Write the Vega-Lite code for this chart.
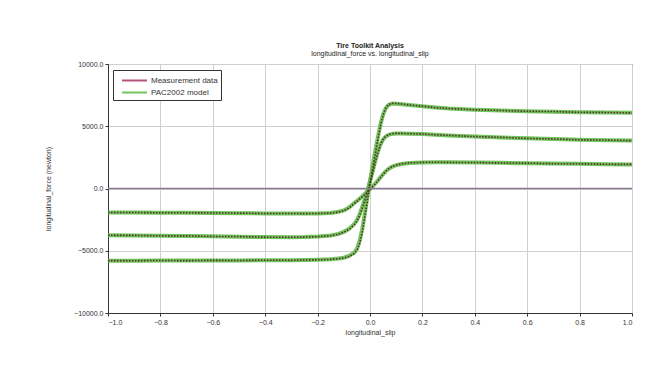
{
  "$schema": "https://vega.github.io/schema/vega-lite/v6.json",
  "autosize": "none",
  "width": 524,
  "height": 249,
  "padding": {"left": 108, "top": 64, "right": 40, "bottom": 58},
  "background": "white",
  "config": {
    "view": {"stroke": "#333333", "strokeWidth": 1},
    "font": "Liberation Sans",
    "axis": {
      "gridColor": "#cfcfcf", "gridWidth": 1, "domainColor": "#333333", "tickColor": "#333333", "tickSize": 3,
      "labelFont": "Liberation Sans", "labelFontSize": 7, "labelColor": "#333333",
      "titleFont": "Liberation Sans", "titleFontSize": 7, "titleFontWeight": "normal", "titleColor": "#333333"
    }
  },
  "title": {
    "text": "Tire Toolkit Analysis",
    "subtitle": "longitudinal_force vs. longitudinal_slip",
    "font": "Liberation Sans", "subtitleFont": "Liberation Sans",
    "fontSize": 7, "subtitleFontSize": 7, "fontWeight": "bold",
    "color": "#222222", "subtitleColor": "#222222",
    "anchor": "middle", "offset": 3, "subtitlePadding": 1
  },
  "datasets": {
    "zero": [{"force": 0}],
    "curves": [
      {"slip": -1.0, "load": "high", "measurement": -5790, "model": -5800},
      {"slip": -0.9, "load": "high", "measurement": -5800, "model": -5795},
      {"slip": -0.8, "load": "high", "measurement": -5780, "model": -5790},
      {"slip": -0.7, "load": "high", "measurement": -5795, "model": -5785},
      {"slip": -0.6, "load": "high", "measurement": -5770, "model": -5780},
      {"slip": -0.5, "load": "high", "measurement": -5785, "model": -5775},
      {"slip": -0.4, "load": "high", "measurement": -5760, "model": -5770},
      {"slip": -0.3, "load": "high", "measurement": -5770, "model": -5760},
      {"slip": -0.25, "load": "high", "measurement": -5740, "model": -5745},
      {"slip": -0.2, "load": "high", "measurement": -5730, "model": -5720},
      {"slip": -0.15, "load": "high", "measurement": -5690, "model": -5680},
      {"slip": -0.12, "load": "high", "measurement": -5640, "model": -5620},
      {"slip": -0.1, "load": "high", "measurement": -5580, "model": -5560},
      {"slip": -0.08, "load": "high", "measurement": -5460, "model": -5420},
      {"slip": -0.06, "load": "high", "measurement": -5230, "model": -5150},
      {"slip": -0.05, "load": "high", "measurement": -4980, "model": -4850},
      {"slip": -0.04, "load": "high", "measurement": -4450, "model": -4250},
      {"slip": -0.03, "load": "high", "measurement": -3550, "model": -3300},
      {"slip": -0.02, "load": "high", "measurement": -2300, "model": -2050},
      {"slip": -0.01, "load": "high", "measurement": -950, "model": -700},
      {"slip": 0.0, "load": "high", "measurement": 350, "model": 600},
      {"slip": 0.01, "load": "high", "measurement": 1550, "model": 1800},
      {"slip": 0.02, "load": "high", "measurement": 2800, "model": 3000},
      {"slip": 0.03, "load": "high", "measurement": 3950, "model": 4100},
      {"slip": 0.04, "load": "high", "measurement": 5050, "model": 5150},
      {"slip": 0.05, "load": "high", "measurement": 5900, "model": 5950},
      {"slip": 0.06, "load": "high", "measurement": 6430, "model": 6450},
      {"slip": 0.07, "load": "high", "measurement": 6720, "model": 6700},
      {"slip": 0.08, "load": "high", "measurement": 6830, "model": 6800},
      {"slip": 0.09, "load": "high", "measurement": 6850, "model": 6820},
      {"slip": 0.1, "load": "high", "measurement": 6830, "model": 6810},
      {"slip": 0.12, "load": "high", "measurement": 6790, "model": 6770},
      {"slip": 0.15, "load": "high", "measurement": 6710, "model": 6700},
      {"slip": 0.2, "load": "high", "measurement": 6610, "model": 6600},
      {"slip": 0.25, "load": "high", "measurement": 6490, "model": 6500},
      {"slip": 0.3, "load": "high", "measurement": 6430, "model": 6420},
      {"slip": 0.4, "load": "high", "measurement": 6320, "model": 6330},
      {"slip": 0.5, "load": "high", "measurement": 6270, "model": 6260},
      {"slip": 0.6, "load": "high", "measurement": 6200, "model": 6210},
      {"slip": 0.7, "load": "high", "measurement": 6180, "model": 6170},
      {"slip": 0.8, "load": "high", "measurement": 6120, "model": 6130},
      {"slip": 0.9, "load": "high", "measurement": 6110, "model": 6100},
      {"slip": 1.0, "load": "high", "measurement": 6070, "model": 6080},

      {"slip": -1.0, "load": "mid", "measurement": -3760, "model": -3750},
      {"slip": -0.9, "load": "mid", "measurement": -3765, "model": -3770},
      {"slip": -0.8, "load": "mid", "measurement": -3800, "model": -3790},
      {"slip": -0.7, "load": "mid", "measurement": -3805, "model": -3810},
      {"slip": -0.6, "load": "mid", "measurement": -3850, "model": -3840},
      {"slip": -0.5, "load": "mid", "measurement": -3860, "model": -3870},
      {"slip": -0.4, "load": "mid", "measurement": -3910, "model": -3900},
      {"slip": -0.3, "load": "mid", "measurement": -3920, "model": -3910},
      {"slip": -0.25, "load": "mid", "measurement": -3905, "model": -3900},
      {"slip": -0.2, "load": "mid", "measurement": -3870, "model": -3860},
      {"slip": -0.15, "load": "mid", "measurement": -3790, "model": -3780},
      {"slip": -0.12, "load": "mid", "measurement": -3670, "model": -3650},
      {"slip": -0.1, "load": "mid", "measurement": -3510, "model": -3480},
      {"slip": -0.08, "load": "mid", "measurement": -3290, "model": -3250},
      {"slip": -0.06, "load": "mid", "measurement": -2910, "model": -2850},
      {"slip": -0.05, "load": "mid", "measurement": -2620, "model": -2550},
      {"slip": -0.04, "load": "mid", "measurement": -2190, "model": -2100},
      {"slip": -0.03, "load": "mid", "measurement": -1600, "model": -1500},
      {"slip": -0.02, "load": "mid", "measurement": -950, "model": -850},
      {"slip": -0.01, "load": "mid", "measurement": -300, "model": -200},
      {"slip": 0.0, "load": "mid", "measurement": 480, "model": 600},
      {"slip": 0.01, "load": "mid", "measurement": 1250, "model": 1350},
      {"slip": 0.02, "load": "mid", "measurement": 2100, "model": 2200},
      {"slip": 0.03, "load": "mid", "measurement": 2880, "model": 2950},
      {"slip": 0.04, "load": "mid", "measurement": 3520, "model": 3550},
      {"slip": 0.05, "load": "mid", "measurement": 3940, "model": 3950},
      {"slip": 0.06, "load": "mid", "measurement": 4190, "model": 4180},
      {"slip": 0.07, "load": "mid", "measurement": 4320, "model": 4300},
      {"slip": 0.08, "load": "mid", "measurement": 4390, "model": 4370},
      {"slip": 0.09, "load": "mid", "measurement": 4420, "model": 4400},
      {"slip": 0.1, "load": "mid", "measurement": 4430, "model": 4420},
      {"slip": 0.12, "load": "mid", "measurement": 4430, "model": 4420},
      {"slip": 0.15, "load": "mid", "measurement": 4410, "model": 4400},
      {"slip": 0.2, "load": "mid", "measurement": 4380, "model": 4370},
      {"slip": 0.25, "load": "mid", "measurement": 4310, "model": 4320},
      {"slip": 0.3, "load": "mid", "measurement": 4270, "model": 4260},
      {"slip": 0.4, "load": "mid", "measurement": 4170, "model": 4180},
      {"slip": 0.5, "load": "mid", "measurement": 4110, "model": 4100},
      {"slip": 0.6, "load": "mid", "measurement": 4020, "model": 4030},
      {"slip": 0.7, "load": "mid", "measurement": 3980, "model": 3970},
      {"slip": 0.8, "load": "mid", "measurement": 3910, "model": 3920},
      {"slip": 0.9, "load": "mid", "measurement": 3890, "model": 3880},
      {"slip": 1.0, "load": "mid", "measurement": 3840, "model": 3850},

      {"slip": -1.0, "load": "low", "measurement": -1930, "model": -1920},
      {"slip": -0.9, "load": "low", "measurement": -1925, "model": -1930},
      {"slip": -0.8, "load": "low", "measurement": -1950, "model": -1940},
      {"slip": -0.7, "load": "low", "measurement": -1945, "model": -1950},
      {"slip": -0.6, "load": "low", "measurement": -1970, "model": -1960},
      {"slip": -0.5, "load": "low", "measurement": -1975, "model": -1980},
      {"slip": -0.4, "load": "low", "measurement": -2010, "model": -2000},
      {"slip": -0.3, "load": "low", "measurement": -2005, "model": -2010},
      {"slip": -0.25, "load": "low", "measurement": -2020, "model": -2010},
      {"slip": -0.2, "load": "low", "measurement": -2005, "model": -2000},
      {"slip": -0.15, "load": "low", "measurement": -1970, "model": -1960},
      {"slip": -0.12, "load": "low", "measurement": -1890, "model": -1870},
      {"slip": -0.1, "load": "low", "measurement": -1780, "model": -1760},
      {"slip": -0.08, "load": "low", "measurement": -1560, "model": -1530},
      {"slip": -0.06, "load": "low", "measurement": -1210, "model": -1170},
      {"slip": -0.05, "load": "low", "measurement": -1040, "model": -1000},
      {"slip": -0.04, "load": "low", "measurement": -860, "model": -820},
      {"slip": -0.03, "load": "low", "measurement": -680, "model": -640},
      {"slip": -0.02, "load": "low", "measurement": -480, "model": -440},
      {"slip": -0.01, "load": "low", "measurement": -290, "model": -250},
      {"slip": 0.0, "load": "low", "measurement": -80, "model": -40},
      {"slip": 0.01, "load": "low", "measurement": 140, "model": 180},
      {"slip": 0.02, "load": "low", "measurement": 370, "model": 400},
      {"slip": 0.03, "load": "low", "measurement": 610, "model": 640},
      {"slip": 0.04, "load": "low", "measurement": 880, "model": 900},
      {"slip": 0.05, "load": "low", "measurement": 1140, "model": 1150},
      {"slip": 0.06, "load": "low", "measurement": 1380, "model": 1380},
      {"slip": 0.07, "load": "low", "measurement": 1570, "model": 1560},
      {"slip": 0.08, "load": "low", "measurement": 1710, "model": 1700},
      {"slip": 0.09, "load": "low", "measurement": 1810, "model": 1800},
      {"slip": 0.1, "load": "low", "measurement": 1880, "model": 1870},
      {"slip": 0.12, "load": "low", "measurement": 1980, "model": 1970},
      {"slip": 0.15, "load": "low", "measurement": 2060, "model": 2050},
      {"slip": 0.2, "load": "low", "measurement": 2100, "model": 2090},
      {"slip": 0.25, "load": "low", "measurement": 2110, "model": 2100},
      {"slip": 0.3, "load": "low", "measurement": 2095, "model": 2100},
      {"slip": 0.4, "load": "low", "measurement": 2090, "model": 2080},
      {"slip": 0.5, "load": "low", "measurement": 2050, "model": 2060},
      {"slip": 0.6, "load": "low", "measurement": 2040, "model": 2030},
      {"slip": 0.7, "load": "low", "measurement": 1990, "model": 2000},
      {"slip": 0.8, "load": "low", "measurement": 1985, "model": 1980},
      {"slip": 0.9, "load": "low", "measurement": 1945, "model": 1950},
      {"slip": 1.0, "load": "low", "measurement": 1935, "model": 1930}
    ]
  },
  "layer": [
    {
      "data": {"name": "curves"},
      "transform": [
        {"fold": ["measurement", "model"], "as": ["source", "force"]},
        {"filter": "datum.source == 'model'"}
      ],
      "mark": {"type": "line", "strokeWidth": 4, "opacity": 0.9},
      "encoding": {
        "x": {
          "field": "slip", "type": "quantitative",
          "scale": {"domain": [-1, 1], "nice": false, "zero": false},
          "axis": {
            "title": "longitudinal_slip",
            "values": [-1, -0.9, -0.8, -0.7, -0.6, -0.5, -0.4, -0.3, -0.2, -0.1, 0, 0.1, 0.2, 0.3, 0.4, 0.5, 0.6, 0.7, 0.8, 0.9, 1],
            "labelExpr": "abs(round(datum.value * 10)) % 2 == 0 ? format(datum.value, '.1f') : ''",
            "labelPadding": 2, "titlePadding": 3
          }
        },
        "y": {
          "field": "force", "type": "quantitative",
          "scale": {"domain": [-10000, 10000], "nice": false},
          "axis": {
            "title": "longitudinal_force (newton)",
            "values": [-10000, -7500, -5000, -2500, 0, 2500, 5000, 7500, 10000],
            "labelExpr": "datum.value % 5000 == 0 ? format(datum.value, '.1f') : ''",
            "labelPadding": 2, "titlePadding": 22
          }
        },
        "detail": {"field": "load"},
        "color": {
          "field": "source", "type": "nominal",
          "scale": {"domain": ["measurement", "model"], "range": ["#b0406e", "#62bf4a"]},
          "legend": {
            "title": null, "orient": "none", "legendX": 5, "legendY": 6,
            "labelExpr": "datum.value == 'measurement' ? 'Measurement data' : 'PAC2002 model'",
            "symbolType": "M-2,0H2", "symbolSize": 156, "symbolStrokeWidth": 2, "symbolOffset": 11,
            "labelFontSize": 8, "labelFont": "Liberation Sans", "labelColor": "#333333",
            "fillColor": "white", "strokeColor": "#333333", "padding": 3, "rowPadding": -4, "labelOffset": 9
          }
        }
      }
    },
    {
      "data": {"name": "curves"},
      "transform": [
        {"fold": ["measurement", "model"], "as": ["source", "force"]},
        {"filter": "datum.source == 'measurement'"}
      ],
      "mark": {"type": "line", "strokeWidth": 1.6, "strokeDash": [1.5, 1.5], "color": "#5a2a30"},
      "encoding": {
        "x": {"field": "slip", "type": "quantitative"},
        "y": {"field": "force", "type": "quantitative"},
        "detail": {"field": "load"}
      }
    },
    {
      "data": {"name": "zero"},
      "mark": {"type": "rule", "color": "#8a7b95", "strokeWidth": 1.3},
      "encoding": {"y": {"field": "force", "type": "quantitative"}}
    }
  ]
}
